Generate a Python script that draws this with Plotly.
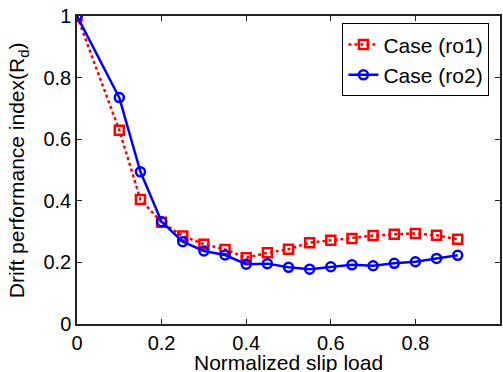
import plotly.graph_objects as go

x_vals = [0, 0.1, 0.15, 0.2, 0.25, 0.3, 0.35, 0.4, 0.45, 0.5, 0.55, 0.6, 0.65, 0.7, 0.75, 0.8, 0.85, 0.9]
ro1 = [1.0, 0.629, 0.404, 0.330, 0.286, 0.259, 0.242, 0.215, 0.231, 0.243, 0.264, 0.272, 0.278, 0.287, 0.291, 0.294, 0.288, 0.275]
ro2 = [1.0, 0.735, 0.494, 0.332, 0.267, 0.237, 0.224, 0.194, 0.196, 0.184, 0.178, 0.186, 0.192, 0.189, 0.197, 0.202, 0.213, 0.223]
tick_vals = [0, 0.2, 0.4, 0.6, 0.8, 1]
tick_text = ["0", "0.2", "0.4", "0.6", "0.8", "1"]
x_title = "Normalized slip load"
y_title = "Drift performance index(R<sub>d</sub>)"

FONT = "Liberation Sans, Arial, sans-serif"

fig = go.Figure()
fig.add_trace(go.Scatter(
    x=x_vals, y=ro1, name="Case (ro1)", mode="lines+markers",
    line=dict(color="#ff0000", width=2.5, dash="dot"),
    marker=dict(symbol="square-open", size=9, color="#ff0000", line=dict(width=2.5, color="#ff0000")),
))
fig.add_trace(go.Scatter(
    x=x_vals, y=ro2, name="Case (ro2)", mode="lines+markers",
    line=dict(color="#0000ff", width=2.5),
    marker=dict(symbol="circle-open", size=9, color="#0000ff", line=dict(width=2.5, color="#0000ff")),
))

axis_common = dict(
    range=[0, 1], tickvals=tick_vals, ticktext=tick_text,
    ticks="inside", ticklen=5, tickwidth=1, tickcolor="#222",
    showline=True, linecolor="#222", linewidth=1.5, mirror="ticks",
    showgrid=False, zeroline=False, automargin=False,
    tickfont=dict(family=FONT, size=20, color="#000"),
)

fig.update_layout(
    width=503, height=372,
    margin=dict(l=77, r=3, t=16, b=48, autoexpand=False),
    paper_bgcolor="white", plot_bgcolor="white",
    font=dict(family=FONT, size=20, color="#000"),
    xaxis=dict(**axis_common),
    yaxis=dict(**axis_common),
    legend=dict(
        x=0.975, y=0.976, xanchor="right", yanchor="top",
        bgcolor="white", bordercolor="#000", borderwidth=1,
        font=dict(family=FONT, size=21, color="#000"),
        tracegroupgap=0,
    ),
    showlegend=True,
    annotations=[
        dict(text=x_title, xref="paper", yref="paper", x=0.5, y=-0.125,
             xanchor="center", yanchor="middle", showarrow=False,
             font=dict(family=FONT, size=21, color="#000")),
        dict(text=y_title, xref="paper", yref="paper", x=-0.139, y=0.5,
             xanchor="center", yanchor="middle", textangle=-90, showarrow=False,
             font=dict(family=FONT, size=21, color="#000")),
    ],
)

fig.write_html("out.html")
